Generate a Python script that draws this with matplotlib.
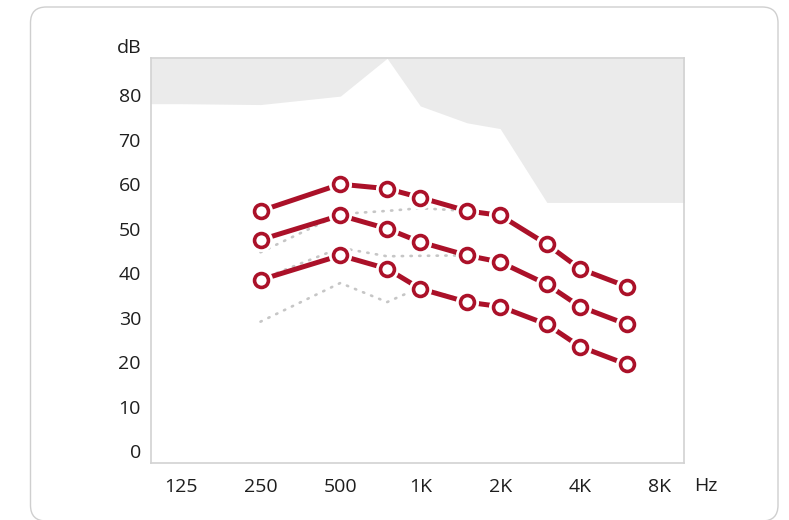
import matplotlib
matplotlib.use("Agg")
import matplotlib.pyplot as plt
from matplotlib.patches import FancyBboxPatch
from matplotlib.ticker import FixedLocator, NullLocator

plt.rcParams['font.family'] = ['Open Sans', 'DejaVu Sans']

# ---- data ----
freqs = [250, 500, 750, 1000, 1500, 2000, 3000, 4000, 6000]
red_top = [54, 60, 59, 57, 54, 53, 46.5, 41, 37]
red_mid = [47.5, 53, 50, 47, 44, 42.5, 37.5, 32.5, 28.5]
red_low = [38.5, 44, 41, 36.5, 33.5, 32.5, 28.5, 23.5, 19.5]

prev_top = [44.7, 53.3, 54, 54.6, 54, 53, 46.5, 41, 37]
prev_mid = [38.6, 45.7, 43.8, 43.9, 44, 42.5, 37.5, 32.5, 28.5]
prev_low = [29.1, 37.8, 33.5, 36.8, 33.7, 32.5, 28.5, 23.5, 19.5]

ull_freqs = [125, 250, 500, 750, 1000, 1500, 2000, 3000, 4000, 6000, 8000]
ull_vals = [78.1, 77.9, 79.8, 88.3, 77.6, 73.8, 72.5, 55.9, 55.9, 55.9, 55.9]

tick_freqs = [125, 250, 500, 1000, 2000, 4000, 8000]
tick_labels = ['125', '250', '500', '1K', '2K', '4K', '8K']
ytick_vals = [0, 10, 20, 30, 40, 50, 60, 70, 80]

RED = '#ab1129'
GRAY_FILL = '#ebebeb'
FRAME = '#d2d2d2'
DOT = '#c6c6c6'
TXT = '#1e1e1e'
FS = 14

W, H = 789, 520
fig = plt.figure(figsize=(W / 100, H / 100), dpi=100)

# card (pixel coords from top: x 30.5..778, y 7..521)
card = FancyBboxPatch((30.5 / W, (H - 521) / H), (778 - 30.5) / W, (521 - 7) / H,
                      boxstyle="round,pad=0,rounding_size=0.02",
                      transform=fig.transFigure, facecolor='white',
                      edgecolor='#cfcfcf', linewidth=1.0, mutation_aspect=W / H,
                      zorder=-10)
fig.patches.append(card)

left, right, top, bottom = 150.7, 684.3, 58.3, 462.7
ax = fig.add_axes([left / W, 1 - bottom / H, (right - left) / W, (bottom - top) / H])
ax.set_zorder(1)
ax.set_xscale('log', base=2)
xmin, xmax = 96.4, 9890
ymin, ymax = -2.6, 88.3
ax.set_xlim(xmin, xmax)
ax.set_ylim(ymin, ymax)

# gray area
fx = [xmin] + ull_freqs + [xmax]
fy = [ull_vals[0]] + ull_vals + [ull_vals[-1]]
ax.fill_between(fx, fy, ymax, color=GRAY_FILL, linewidth=0, zorder=0.5)

# previous (dotted) lines
for ys in (prev_top, prev_mid, prev_low):
    ax.plot(freqs, ys, linestyle=(0, (0.5, 2.8)), color=DOT, lw=1.9,
            dash_capstyle='round', zorder=1)

# red lines
for ys in (red_top, red_mid, red_low):
    ax.plot(freqs, ys, color=RED, lw=3.6, solid_capstyle='round', zorder=2)
for ys in (red_top, red_mid, red_low):
    ax.plot(freqs, ys, linestyle='none', marker='o', markersize=10,
            markerfacecolor='white', markeredgecolor='white',
            markeredgewidth=6.6, zorder=3)
    ax.plot(freqs, ys, linestyle='none', marker='o', markersize=10,
            markerfacecolor='white', markeredgecolor=RED,
            markeredgewidth=2.6, zorder=4)

for s in ax.spines.values():
    s.set_color(FRAME)
    s.set_linewidth(1.2)
    s.set_zorder(5)

ax.xaxis.set_major_locator(FixedLocator(tick_freqs))
ax.xaxis.set_minor_locator(NullLocator())
ax.set_xticklabels(tick_labels)
ax.set_yticks(ytick_vals)
ax.tick_params(axis='both', length=0, labelsize=FS, colors=TXT)
ax.tick_params(axis='x', pad=11)
ax.tick_params(axis='y', pad=7)

fig.text(141 / W, 1 - 48 / H, 'dB', ha='right', va='center', fontsize=FS, color=TXT)
fig.text(706 / W, 1 - 486 / H, 'Hz', ha='center', va='center', fontsize=FS, color=TXT)

fig.savefig('out.png', dpi=100)
